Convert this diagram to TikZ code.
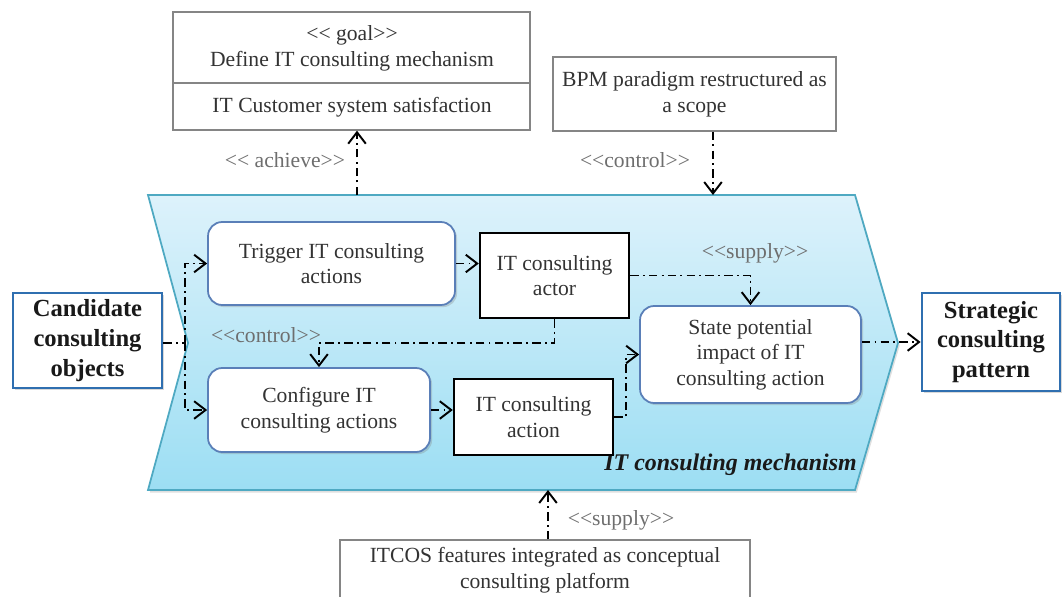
\documentclass[tikz,border=0pt]{standalone}
\usepackage{fontspec}
\setmainfont{Liberation Serif}
\usetikzlibrary{arrows.meta,shadows,calc}
\definecolor{boxgray}{HTML}{858585}
\definecolor{txtgray}{HTML}{333333}
\definecolor{lblgray}{HTML}{6E6E6E}
\definecolor{chevtop}{HTML}{DDF2FB}
\definecolor{chevbot}{HTML}{9CDEF3}
\definecolor{chevline}{HTML}{4EA9C2}
\definecolor{rndline}{HTML}{5A7FB8}
\definecolor{blueline}{HTML}{2F6FB0}
\newcommand\lgl{<\kern0pt<}
\newcommand\rgl{>\kern0pt>}
\begin{document}
\begin{tikzpicture}[x=0.02cm,y=-0.02cm,
  conn/.style={line width=1.1pt, dash pattern=on 4.8pt off 2.4pt on 1.1pt off 2.4pt,
    >={Straight Barb[length=6.5pt,width=10pt]}},
  graybox/.style={draw=boxgray, line width=0.8pt, fill=white, align=center,
    text=txtgray, font=\fontsize{12.3}{14.6}\selectfont},
  gtext/.style={text=txtgray, font=\fontsize{12.3}{14.6}\selectfont, inner sep=0pt},
  rbox/.style={draw=rndline, line width=1pt, fill=white, rounded corners=8pt,
    drop shadow={shadow xshift=1.2pt, shadow yshift=-1.2pt, opacity=0.3},
    align=center, text=txtgray, font=\fontsize{12.3}{14.6}\selectfont},
  sbox/.style={draw=black, line width=1.4pt, fill=white, align=center,
    text=txtgray, font=\fontsize{12.3}{14.6}\selectfont},
  bbox/.style={draw=blueline, line width=1.6pt, fill=white, align=center,
    text=black!90, font=\fontsize{14}{17}\selectfont\bfseries,
    drop shadow={shadow xshift=1.2pt, shadow yshift=-1.2pt, opacity=0.3}},
  lbl/.style={text=lblgray, font=\fontsize{12.3}{14.6}\selectfont, inner sep=0pt}]
\useasboundingbox (0,0) rectangle (1062,596);
\clip (0,0) rectangle (1062,596);

% chevron
\path[draw=chevline, line width=1pt, top color=chevtop, bottom color=chevbot,
  drop shadow={shadow xshift=1pt, shadow yshift=-1.5pt, opacity=0.25}]
  (148,195) -- (855,195) -- (898,343) -- (855,490) -- (148,490) -- (188,343) -- cycle;
\coordinate (ach) at (357,195);
\coordinate (ctl) at (713,195);
\coordinate (sup) at (548,490);
\node[anchor=east, inner sep=0pt, font=\fontsize{13.6}{16}\selectfont\bfseries\itshape, text=black!90]
  (mech) at (857,465) {IT consulting mechanism};

% goal box
\node[graybox, minimum width=7.14cm, minimum height=2.36cm] (goal) at (351.5,71) {};
\draw[boxgray, line width=0.8pt] (goal.west |- 0,83) -- (goal.east |- 0,83);
\node[gtext] (g1) at (352,35) {\lgl{} goal\rgl};
\node[gtext] (g2) at (352,61) {Define IT consulting mechanism};
\node[gtext] (g3) at (352,107) {IT Customer system satisfaction};

% BPM box
\node[graybox, minimum width=5.66cm, minimum height=1.48cm] (bpm) at (694.5,94)
  {BPM paradigm restructured as\\a scope};

% ITCOS box
\node[graybox, minimum width=8.2cm, minimum height=1.2cm] (itcos) at (545,570)
  {ITCOS features integrated as conceptual\\consulting platform};

% outer boxes
\node[bbox, minimum width=2.98cm, minimum height=1.9cm] (cand) at (87.5,340.5)
  {Candidate\\consulting\\objects};
\node[bbox, minimum width=2.76cm, minimum height=1.96cm] (strat) at (991,342)
  {Strategic\\consulting\\pattern};

% inner boxes
\node[rbox, minimum width=4.94cm, minimum height=1.66cm] (trig) at (331.5,263.5)
  {Trigger IT consulting\\actions};
\node[rbox, minimum width=4.44cm, minimum height=1.68cm] (conf) at (319,410)
  {Configure IT\\consulting actions};
\node[sbox, minimum width=2.98cm, minimum height=1.7cm] (actor) at (554.5,275.5)
  {IT consulting\\actor};
\node[sbox, minimum width=3.18cm, minimum height=1.52cm] (action) at (533.5,417)
  {IT consulting\\action};
\node[rbox, minimum width=4.42cm, minimum height=1.94cm] (state) at (750.5,354.5)
  {State potential\\impact of IT\\consulting action};

% connectors
\coordinate (vx) at (185,343);
\draw[conn] (cand.east |- vx) -- (vx);
\draw[conn,->] (vx) |- (trig.west);
\draw[conn,->] (vx) |- (conf.west);
\draw[conn,->] (trig.east) -- (trig.east -| actor.west);
\draw[conn,->] (conf.east) -- (conf.east -| action.west);
\draw[conn,->] (actor.east) -| (state.north);
\draw[conn,->] (actor.south) -- (actor.south |- 0,343) -| (conf.north);
\draw[conn,->] (action.east) -- ++(12,0) |- (state.west);
\draw[conn,->] (state.east |- strat.west) -- (strat.west);
\draw[conn,->] (ach) -- (ach |- goal.south);
\draw[conn,->] (bpm.south -| ctl) -- (ctl);
\draw[conn,->] (itcos.north -| sup) -- (sup);

% labels
\node[lbl] (l1) at (285,160) {\lgl{} achieve\rgl};
\node[lbl] (l2) at (635,160) {\lgl control\rgl};
\node[lbl] (l3) at (755,253) {\lgl supply\rgl};
\node[lbl] (l4) at (266,335) {\lgl control\rgl};
\node[lbl] (l5) at (621,520) {\lgl supply\rgl};
\end{tikzpicture}
\end{document}
